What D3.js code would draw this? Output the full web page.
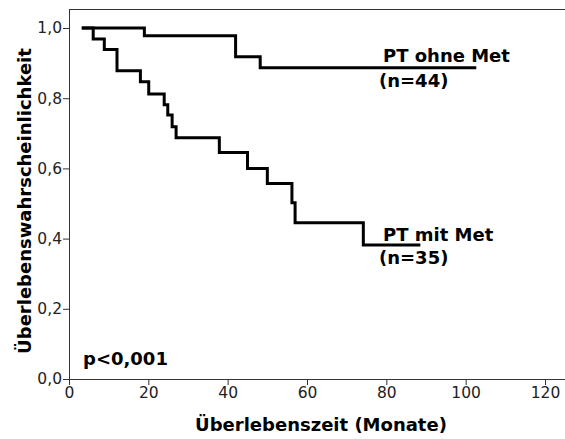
<!DOCTYPE html>
<html><head><meta charset="utf-8">
<script src="https://cdn.jsdelivr.net/npm/d3@7"></script>
<style>body{margin:0;background:#fff}svg{display:block}</style>
</head><body>
<script>
// Kaplan-Meier step data: [time (months), survival]
const ohneMetTimes = [3.6, 19, 42, 48.2, 102.3];
const ohneMetSurv  = [1.0, 0.978, 0.918, 0.887, 0.887];
const mitMetTimes  = [3.6, 6.1, 8.9, 12.1, 18, 20.1, 24, 24.9, 26, 27, 37.9, 45, 50, 56.2, 57, 74.2, 88.2];
const mitMetSurv   = [1.0, 0.969, 0.939, 0.878, 0.847, 0.812, 0.781, 0.752, 0.719, 0.687, 0.645, 0.600, 0.557, 0.502, 0.445, 0.382, 0.382];
const xTicks = [0, 20, 40, 60, 80, 100, 120];
const yTicks = [0, 0.2, 0.4, 0.6, 0.8, 1.0];
const labelNames = ["PT ohne Met", "PT mit Met"];
const labelNs = ["(n=44)", "(n=35)"];
const pText = "p<0,001";
const xTitle = "Überlebenszeit (Monate)";
const yTitle = "Überlebenswahrscheinlichkeit";

const W = 565, H = 439;
const svg = d3.select("body").append("svg").attr("width", W).attr("height", H);
const x = d3.scaleLinear().domain([0, 120]).range([69, 545]);
const y = d3.scaleLinear().domain([0, 1]).range([379, 28]);
const font = "DejaVu Sans, Verdana, sans-serif";

// top frame line
svg.append("line").attr("x1", 69).attr("x2", W).attr("y1", 9.5).attr("y2", 9.5)
  .attr("stroke", "#333").attr("stroke-width", 1);

const xAxis = svg.append("g").attr("transform", "translate(0,379)")
  .call(d3.axisBottom(x).tickValues(xTicks).tickSize(6).tickPadding(2).tickFormat(d3.format("d")));
xAxis.select(".domain").attr("d", `M69,0.5H${W}`);
const yAxis = svg.append("g").attr("transform", "translate(69,0)")
  .call(d3.axisLeft(y).tickValues(yTicks).tickSize(6).tickPadding(1).tickFormat(d => d3.format(".1f")(d).replace(".", ",")));
yAxis.select(".domain").attr("d", "M0.5,379V9.5");
[xAxis, yAxis].forEach(g => {
  g.selectAll("path,line").attr("stroke", "#333");
  g.selectAll("text").attr("font-family", font).attr("font-size", 15.5).attr("fill", "#222");
});

const line = d3.line().curve(d3.curveStepAfter).x(d => x(d[0])).y(d => y(d[1]));
const series = [[ohneMetTimes, ohneMetSurv], [mitMetTimes, mitMetSurv]];
series.forEach(([t, s]) => {
  svg.append("path").datum(t.map((v, i) => [v, s[i]]))
    .attr("d", line).attr("fill", "none").attr("stroke", "#000")
    .attr("stroke-width", 3).attr("stroke-linejoin", "miter").attr("stroke-linecap", "square");
});

// labels placed just right/above the last step of each curve
const nameDy = [-5.5, -3.5];
series.forEach(([t, s], i) => {
  const sv = s[s.length - 1];
  svg.append("text").attr("x", 383).attr("y", y(sv) + nameDy[i])
    .attr("font-family", font).attr("font-weight", "bold").attr("font-size", 18).text(labelNames[i]);
  svg.append("text").attr("x", 379).attr("y", y(sv) + 19.5)
    .attr("font-family", font).attr("font-weight", "bold").attr("font-size", 18).text(labelNs[i]);
});

svg.append("text").attr("x", 83).attr("y", 365)
  .attr("font-family", font).attr("font-weight", "bold").attr("font-size", 18).text(pText);

svg.append("text").attr("x", 321).attr("y", 431).attr("text-anchor", "middle")
  .attr("font-family", font).attr("font-weight", "bold").attr("font-size", 18).text(xTitle);
svg.append("text").attr("transform", `translate(31,201) rotate(-90)`).attr("text-anchor", "middle")
  .attr("font-family", font).attr("font-weight", "bold").attr("font-size", 18).text(yTitle);
</script>
</body></html>
